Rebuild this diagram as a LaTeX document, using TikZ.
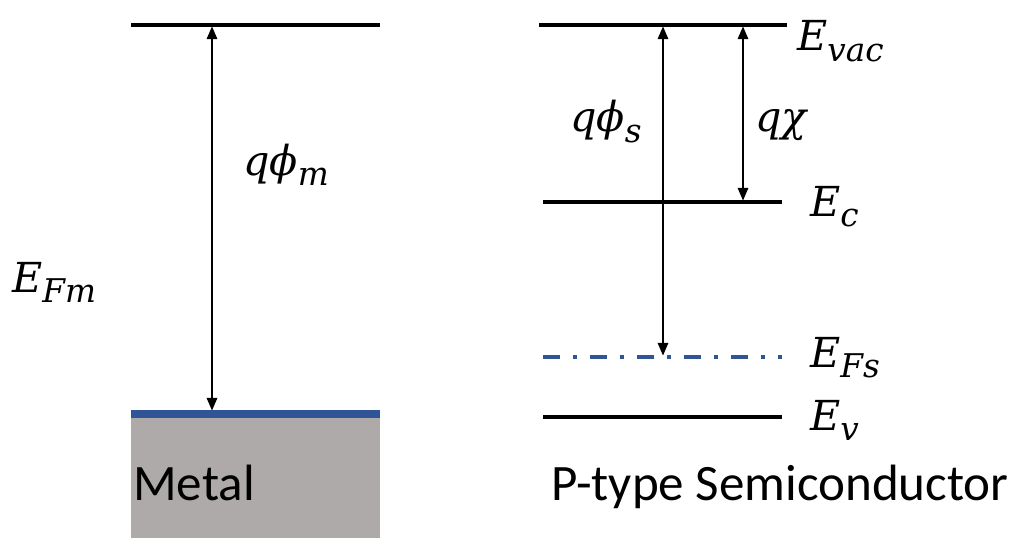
\documentclass[tikz,border=0pt]{standalone}
\usepackage{fontspec}
\setsansfont{Carlito}
\newfontfamily\symfont{DejaVu Serif}
\usetikzlibrary{arrows.meta}
\definecolor{metalgray}{RGB}{174,170,170}
\definecolor{levelblue}{RGB}{47,85,151}
\newcommand{\sublow}[1]{\raisebox{-0.26em}{\fontsize{24.5}{28}\selectfont #1}}
\tikzset{
  level/.style={line width=3pt},
  thinlevel/.style={line width=2.4pt},
  gap/.style={line width=0.8pt, {Triangle[length=9.5pt,width=8pt]}-{Triangle[length=9.5pt,width=8pt]}},
  mlabel/.style={inner sep=0pt, anchor=base west, font=\symfont\itshape\fontsize{31}{36}\selectfont},
  tlabel/.style={inner sep=0pt, anchor=base west, font=\sffamily\fontsize{38.3}{44}\selectfont},
}
\begin{document}
\begin{tikzpicture}[x=0.75pt,y=-0.75pt]
\useasboundingbox (0,0) rectangle (1021,542);
% metal
\fill[metalgray] (131,417) rectangle (380,538);
\coordinate (mblA) at (131,414);
\coordinate (mblB) at (380,414);
\draw[levelblue, line width=6pt] (mblA) -- (mblB);
\coordinate (mvacA) at (131,25);
\coordinate (mvacB) at (380,25);
\draw[thinlevel] (mvacA) -- (mvacB);
\coordinate (phimTop) at (212,26.5);
\coordinate (phimBot) at (212,410.5);
\draw[gap] (phimTop) -- (phimBot);
\node[tlabel] (metal) at (133,500) {Metal};
\node[mlabel] (efm) at (12,292) {E\sublow{Fm}};
\node[mlabel] (qphim) at (243,175) {qϕ\sublow{m}};
% semiconductor
\coordinate (svacA) at (539,25);
\coordinate (svacB) at (787,25);
\draw[thinlevel] (svacA) -- (svacB);
\coordinate (ecA) at (543,202);
\coordinate (ecB) at (782,202);
\draw[level] (ecA) -- (ecB);
\coordinate (efsA) at (543,357);
\coordinate (efsB) at (782,357);
\draw[levelblue, line width=3pt, dash pattern=on 12.75pt off 9.75pt on 3pt off 9.75pt] (efsA) -- (efsB);
\coordinate (evA) at (543,417);
\coordinate (evB) at (782,417);
\draw[level] (evA) -- (evB);
\coordinate (phisTop) at (663,26.5);
\coordinate (phisBot) at (663,355.5);
\draw[gap] (phisTop) -- (phisBot);
\coordinate (chiTop) at (743,26.5);
\coordinate (chiBot) at (743,200.5);
\draw[gap] (chiTop) -- (chiBot);
\node[mlabel] (evac) at (797,51) {E\sublow{vac}};
\node[mlabel] (qchi) at (755,132) {qχ};
\node[mlabel] (qphis) at (570,132) {qϕ\sublow{s}};
\node[mlabel] (ec) at (810,216) {E\sublow{c}};
\node[mlabel] (efs) at (810,367) {E\sublow{Fs}};
\node[mlabel] (ev) at (810,430) {E\sublow{v}};
\node[tlabel] (ptype) at (551,500) {P-type Semiconductor};
\end{tikzpicture}
\end{document}
